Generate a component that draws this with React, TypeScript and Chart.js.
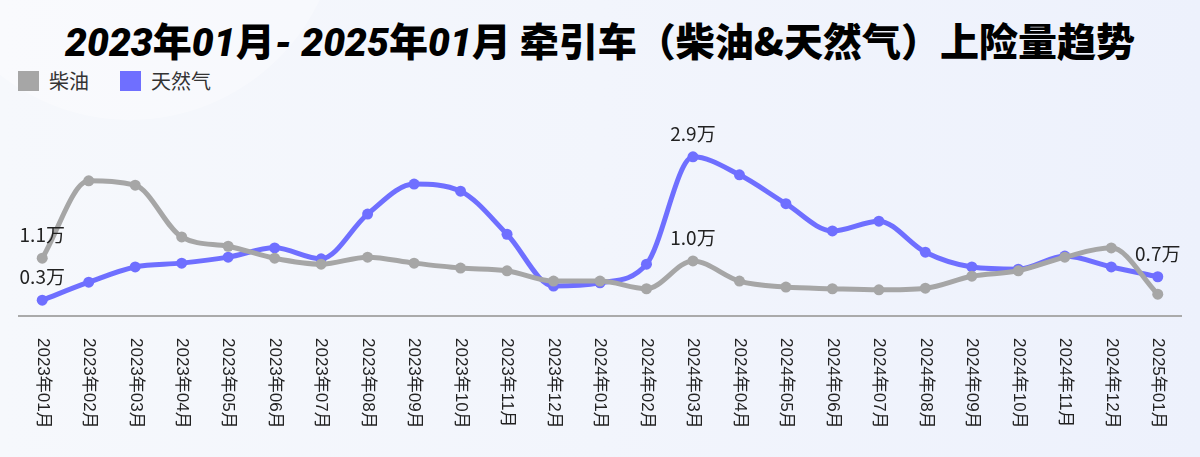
import React, { useEffect, useRef } from "react";
import { Chart, registerables } from "chart.js";

Chart.register(...registerables);

const months: string[] = [
  "2023年01月", "2023年02月", "2023年03月", "2023年04月", "2023年05月", "2023年06月",
  "2023年07月", "2023年08月", "2023年09月", "2023年10月", "2023年11月", "2023年12月",
  "2024年01月", "2024年02月", "2024年03月", "2024年04月", "2024年05月", "2024年06月",
  "2024年07月", "2024年08月", "2024年09月", "2024年10月", "2024年11月", "2024年12月",
  "2025年01月",
];

const dieselValues: number[] = [
  10600, 24800, 24000, 14500, 12800, 10600, 9500, 10800, 9700, 8800, 8300, 6400,
  6400, 5000, 10100, 6400, 5300, 5000, 4800, 5100, 7300, 8300, 10800, 12500, 4000,
];

const gasValues: number[] = [
  2900, 6200, 9000, 9700, 10800, 12500, 10500, 18700, 24200, 22900, 15000, 5500,
  6100, 9500, 29200, 25900, 20600, 15600, 17400, 11700, 9000, 8600, 11000, 9000, 7200,
];

const dieselLabelIndex: number[] = [0, 14];
const gasLabelIndex: number[] = [0, 14, 24];

const seriesNames = ["柴油", "天然气"];
const seriesColors = ["#a6a6a6", "#6f6fff"];

const fmt = (v: number) => (v / 10000).toFixed(1) + "万";

const labelPlugin = {
  id: "customLabels",
  afterDatasetsDraw(chart: any) {
    const ctx = chart.ctx;
    const idxSets = [dieselLabelIndex, gasLabelIndex];
    ctx.save();
    ctx.font = '19px "Noto Sans CJK SC", "Noto Sans", sans-serif';
    ctx.fillStyle = "#222";
    ctx.textAlign = "center";
    ctx.textBaseline = "middle";
    chart.data.datasets.forEach((ds: any, di: number) => {
      const meta = chart.getDatasetMeta(di);
      idxSets[di].forEach((i) => {
        const pt = meta.data[i];
        if (!pt) return;
        ctx.fillText(fmt(ds.data[i]), pt.x, pt.y - 23);
      });
    });
    ctx.restore();
  },
  afterDraw(chart: any) {
    const ctx = chart.ctx;
    const xs = chart.scales.x;
    ctx.save();
    ctx.font = '17px "Liberation Sans", "Noto Sans CJK SC", sans-serif';
    ctx.fillStyle = "#222";
    ctx.textAlign = "left";
    ctx.textBaseline = "middle";
    chart.data.labels.forEach((lab: string, i: number) => {
      const x = xs.getPixelForValue(i);
      ctx.save();
      ctx.translate(x, chart.chartArea.bottom + 22);
      ctx.rotate(Math.PI / 2);
      ctx.fillText(lab, 0, 0);
      ctx.restore();
    });
    ctx.restore();
  },
};

function ChartCanvas() {
  const ref = useRef<HTMLCanvasElement | null>(null);
  useEffect(() => {
    if (!ref.current) return;
    const mk = (i: number, data: number[]) => ({
      label: seriesNames[i],
      data,
      borderColor: seriesColors[i],
      backgroundColor: seriesColors[i],
      borderWidth: 5,
      pointRadius: 5.5,
      pointHoverRadius: 5.5,
      pointBorderWidth: 0,
      cubicInterpolationMode: "monotone" as const,
    });
    const chart = new Chart(ref.current, {
      type: "line",
      data: {
        labels: months,
        datasets: [mk(0, dieselValues), mk(1, gasValues)],
      },
      options: {
        animation: false,
        responsive: false,
        clip: false as any,
        layout: { padding: { top: 98, left: 19, right: 19, bottom: 133 } },
        plugins: {
          legend: { display: false },
          title: { display: false },
          tooltip: { enabled: false },
        },
        scales: {
          x: {
            offset: true,
            grid: { display: false },
            border: { display: true, color: "#aaaaaa", width: 2 },
            ticks: { display: false },
          },
          y: {
            display: false,
            min: 0,
            max: 40000,
          },
        },
      },
      plugins: [labelPlugin],
    });
    return () => chart.destroy();
  }, []);
  return <canvas ref={ref} width={1200} height={457} style={{ position: "absolute", left: 0, top: 0 }} />;
}

const it: React.CSSProperties = { fontStyle: "italic", fontFamily: "Roboto, 'Noto Sans', sans-serif", fontWeight: 900 };

export default function App() {
  return (
    <div
      style={{
        position: "fixed",
        left: 0,
        top: 0,
        width: 1200,
        height: 457,
        overflow: "hidden",
        background: "linear-gradient(90deg, #f6f8fc 0%, #f2f5fc 50%, #edf1fc 100%)",
        fontFamily: "'Noto Sans CJK SC', sans-serif",
      }}
    >
      <div
        style={{
          position: "absolute",
          left: -80,
          top: -300,
          width: 420,
          height: 420,
          borderRadius: "50%",
          background: "rgba(255,255,255,0.3)",
        }}
      />
      <div
        style={{
          position: "absolute",
          left: 0,
          top: 16,
          width: 1200,
          textAlign: "center",
          fontSize: 39,
          lineHeight: "46px",
          fontWeight: 900,
          color: "#000",
          whiteSpace: "nowrap",
        }}
      >
        <span style={it}>2023</span>年<span style={it}>01</span>月<span style={it}>- 2025</span>年
        <span style={it}>01</span>月 牵引车（柴油&amp;天然气）上险量趋势
      </div>
      <div
        style={{
          position: "absolute",
          left: 18,
          top: 66,
          display: "flex",
          alignItems: "center",
          fontSize: 20,
          color: "#333",
        }}
      >
        <span style={{ width: 21, height: 20, background: seriesColors[0], display: "inline-block" }} />
        <span style={{ marginLeft: 10 }}>{seriesNames[0]}</span>
        <span style={{ width: 21, height: 20, background: seriesColors[1], display: "inline-block", marginLeft: 31 }} />
        <span style={{ marginLeft: 10 }}>{seriesNames[1]}</span>
      </div>
      <ChartCanvas />
    </div>
  );
}
